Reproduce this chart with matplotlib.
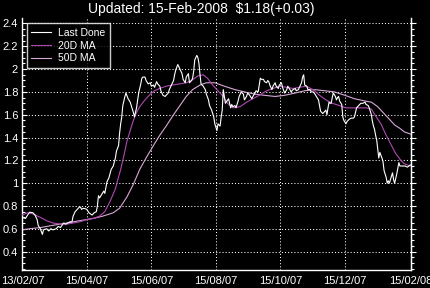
import numpy as np
import pandas as pd
import matplotlib
matplotlib.use("Agg")
import matplotlib.pyplot as plt
from matplotlib.ticker import MultipleLocator, FuncFormatter

plt.rcParams['font.family'] = ['Liberation Sans', 'DejaVu Sans']

start_date = "2007-02-13"
end_date = "2008-02-15"
title_text = "Updated: 15-Feb-2008  $1.18(+0.03)"
series_names = ["Last Done", "20D MA", "50D MA"]
x_tick_dates = ["2007-02-13", "2007-04-15", "2007-06-15", "2007-08-15",
                "2007-10-15", "2007-12-15", "2008-02-15"]
x_tick_labels = ["13/02/07", "15/04/07", "15/06/07", "15/08/07",
                 "15/10/07", "15/12/07", "15/02/08"]
y_ticks = [0.4, 0.6, 0.8, 1.0, 1.2, 1.4, 1.6, 1.8, 2.0, 2.2, 2.4]

# days since start_date
price_days = [0, 3, 5, 7, 10, 12, 14, 15, 17, 19,
              20, 23, 25, 27, 29, 32, 34, 36, 39, 41,
              43, 45, 47, 48, 50, 52, 54, 55, 56, 58,
              61, 63, 66, 68, 70, 71, 72, 73, 75, 77,
              78, 80, 82, 84, 86, 88, 89, 91, 92, 93,
              94, 95, 97, 98, 100, 102, 103, 105, 106, 108,
              110, 112, 113, 114, 116, 117, 119, 121, 122, 124,
              125, 127, 128, 130, 131, 133, 135, 136, 138, 139,
              141, 143, 144, 145, 147, 149, 151, 152, 154, 155,
              157, 158, 160, 161, 162, 163, 165, 166, 167, 168,
              169, 171, 173, 174, 176, 177, 179, 181, 182, 184,
              185, 187, 188, 189, 190, 191, 192, 195, 197, 198,
              199, 201, 202, 204, 205, 207, 209, 210, 212, 213,
              215, 217, 218, 220, 221, 223, 224, 225, 226, 228,
              229, 231, 232, 233, 234, 236, 237, 239, 240, 242,
              243, 245, 246, 248, 250, 251, 253, 254, 256, 258,
              259, 261, 262, 264, 265, 266, 267, 269, 270, 272,
              273, 275, 276, 278, 280, 282, 283, 284, 286, 287,
              288, 289, 290, 291, 292, 293, 294, 296, 297, 298,
              299, 300, 302, 303, 304, 306, 307, 308, 309, 311,
              313, 314, 315, 316, 318, 319, 320, 322, 324, 325,
              327, 328, 330, 331, 332, 333, 334, 335, 337, 338,
              340, 341, 342, 344, 345, 346, 347, 349, 350, 351,
              352, 354, 355, 356, 357, 359, 360, 362, 364, 367]
price_values = [0.70, 0.69, 0.72, 0.745, 0.74, 0.72, 0.68, 0.63, 0.60, 0.55,
                0.59, 0.60, 0.58, 0.60, 0.59, 0.60, 0.62, 0.61, 0.65, 0.64,
                0.65, 0.66, 0.66, 0.71, 0.75, 0.77, 0.79, 0.79, 0.77, 0.78,
                0.77, 0.74, 0.72, 0.74, 0.75, 0.80, 0.89, 0.87, 0.90, 0.93,
                0.91, 1.01, 1.05, 1.12, 1.15, 1.22, 1.28, 1.33, 1.44, 1.52,
                1.58, 1.68, 1.76, 1.79, 1.74, 1.71, 1.68, 1.62, 1.58, 1.66,
                1.79, 1.87, 1.92, 1.93, 1.93, 1.90, 1.87, 1.88, 1.85, 1.86,
                1.84, 1.89, 1.87, 1.85, 1.81, 1.77, 1.76, 1.77, 1.79, 1.82,
                1.86, 1.90, 1.95, 1.99, 2.04, 2.00, 1.96, 1.91, 1.88, 1.93,
                1.96, 1.88, 1.90, 1.92, 1.98, 2.08, 2.12, 2.10, 2.05, 1.95,
                1.87, 1.85, 1.82, 1.78, 1.73, 1.68, 1.64, 1.58, 1.52, 1.46,
                1.52, 1.50, 1.58, 1.64, 1.82, 1.76, 1.70, 1.74, 1.66, 1.69,
                1.67, 1.68, 1.66, 1.72, 1.76, 1.80, 1.78, 1.73, 1.76, 1.79,
                1.77, 1.74, 1.76, 1.79, 1.81, 1.80, 1.86, 1.92, 1.91, 1.91,
                1.89, 1.88, 1.90, 1.89, 1.86, 1.82, 1.85, 1.88, 1.85, 1.83,
                1.86, 1.88, 1.84, 1.79, 1.82, 1.85, 1.82, 1.80, 1.82, 1.83,
                1.81, 1.82, 1.84, 1.88, 1.93, 1.95, 1.86, 1.85, 1.82, 1.82,
                1.80, 1.80, 1.79, 1.76, 1.73, 1.63, 1.62, 1.61, 1.63, 1.64,
                1.60, 1.66, 1.71, 1.70, 1.70, 1.75, 1.79, 1.76, 1.73, 1.75,
                1.76, 1.72, 1.69, 1.58, 1.55, 1.52, 1.54, 1.55, 1.56, 1.57,
                1.57, 1.58, 1.62, 1.66, 1.68, 1.69, 1.70, 1.70, 1.71, 1.69,
                1.68, 1.66, 1.60, 1.54, 1.50, 1.47, 1.42, 1.38, 1.22, 1.27,
                1.22, 1.19, 1.11, 1.05, 1.00, 1.02, 1.00, 1.06, 1.09, 1.03,
                1.00, 1.08, 1.13, 1.18, 1.15, 1.15, 1.15, 1.15, 1.14, 1.16]

ma20_days = [0, 5, 10, 17, 23, 29, 36, 42, 48, 54,
             61, 67, 73, 78, 83, 88, 90, 93, 96, 99,
             102, 105, 108, 111, 116, 121, 125, 130, 136, 142,
             149, 155, 160, 166, 171, 175, 180, 185, 190, 194,
             199, 206, 212, 218, 224, 231, 237, 243, 250, 256,
             262, 268, 275, 281, 287, 293, 300, 306, 313, 319,
             325, 330, 334, 339, 344, 349, 353, 357, 361, 367]
ma20_values = [0.72, 0.74, 0.73, 0.70, 0.67, 0.65, 0.64, 0.64, 0.65, 0.66,
               0.68, 0.69, 0.71, 0.75, 0.84, 0.95, 1.02, 1.12, 1.24, 1.37,
               1.46, 1.55, 1.62, 1.67, 1.73, 1.78, 1.81, 1.83, 1.85, 1.86,
               1.87, 1.88, 1.90, 1.94, 1.95, 1.92, 1.86, 1.81, 1.76, 1.70,
               1.66, 1.67, 1.71, 1.74, 1.77, 1.81, 1.83, 1.85, 1.84, 1.83,
               1.84, 1.85, 1.82, 1.77, 1.73, 1.70, 1.68, 1.66, 1.66, 1.66,
               1.66, 1.65, 1.59, 1.52, 1.42, 1.33, 1.26, 1.21, 1.17, 1.15]

ma50_days = [0, 7, 17, 29, 42, 54, 67, 76, 86, 92,
             99, 105, 111, 117, 124, 130, 136, 143, 149, 155,
             161, 168, 174, 182, 191, 201, 210, 220, 229, 239,
             248, 258, 267, 276, 286, 295, 305, 314, 324, 330,
             336, 342, 347, 352, 357, 361, 367]
ma50_values = [0.59, 0.60, 0.61, 0.63, 0.65, 0.67, 0.69, 0.71, 0.74, 0.78,
               0.88, 0.99, 1.12, 1.22, 1.33, 1.42, 1.50, 1.60, 1.68, 1.76,
               1.82, 1.86, 1.88, 1.88, 1.85, 1.82, 1.80, 1.78, 1.77, 1.76,
               1.77, 1.79, 1.81, 1.82, 1.81, 1.80, 1.77, 1.74, 1.72, 1.71,
               1.67, 1.61, 1.56, 1.51, 1.48, 1.45, 1.43]

base = pd.Timestamp(start_date)
def to_dates(days):
    return base + pd.to_timedelta(days, unit="D")

W, H = 430, 288
fig = plt.figure(figsize=(W / 100, H / 100), dpi=100, facecolor="black")
ax = fig.add_axes([22.3 / W, 18 / H, 388.2 / W, 252 / H], facecolor="black")

ax.plot(to_dates(price_days), price_values, color="white", lw=0.8, label=series_names[0], zorder=4)
ax.plot(to_dates(ma20_days), ma20_values, color="#b048b4", lw=0.8, label=series_names[1], zorder=3)
ax.plot(to_dates(ma50_days), ma50_values, color="#d8a8d8", lw=0.8, label=series_names[2], zorder=2)

ax.set_xlim(pd.Timestamp(start_date), pd.Timestamp(end_date))
ax.set_ylim(0.238, 2.448)

ax.set_yticks(y_ticks)
ax.yaxis.set_major_formatter(FuncFormatter(lambda v, p: "%g" % round(v, 2)))
ax.yaxis.set_minor_locator(MultipleLocator(0.05))
ax.set_xticks(pd.to_datetime(x_tick_dates))
ax.set_xticklabels(x_tick_labels)

ax.grid(True, which="major", color="white", linestyle=(0, (1, 2)), linewidth=0.75)

for s in ["left", "bottom", "right"]:
    ax.spines[s].set_color("white")
    ax.spines[s].set_linewidth(1.0)
ax.spines["top"].set_visible(False)

ax.tick_params(axis="y", which="major", direction="in", length=3.5, width=0.8,
               colors="white", labelsize=8, pad=3)
ax.tick_params(axis="y", which="minor", direction="in", length=2, width=0.8, colors="white")
ax.tick_params(axis="x", which="major", length=0, colors="white", labelsize=8, pad=4)

sec = ax.secondary_yaxis("right")
sec.set_yticks(y_ticks)
sec.yaxis.set_minor_locator(MultipleLocator(0.05))
sec.tick_params(axis="y", which="major", direction="out", length=3.5, width=0.8,
                colors="white", labelright=False)
sec.tick_params(axis="y", which="minor", direction="out", length=2, width=0.8, colors="white")
sec.spines["right"].set_color("white")

leg = ax.legend(loc="upper left", bbox_to_anchor=(0.0113, 0.979), borderaxespad=0,
                frameon=True, fancybox=False, facecolor="black", edgecolor="white",
                fontsize=7.5, labelcolor="white", handlelength=1.9, handletextpad=0.7,
                borderpad=0.45, labelspacing=0.25)
leg.get_frame().set_linewidth(1.0)
leg.set_zorder(10)

fig.text(0.467, 0.969, title_text, ha="center", va="center", color="white", fontsize=10)

fig.savefig("out.png", dpi=100, facecolor="black")
